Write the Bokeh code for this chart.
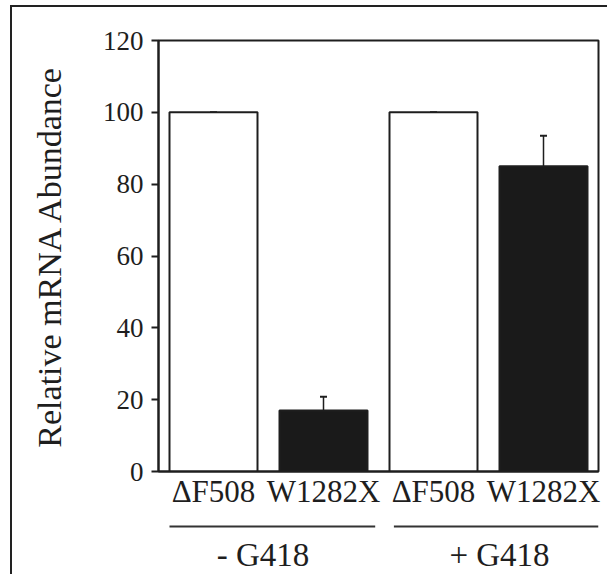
from bokeh.plotting import figure
from bokeh.layouts import column
from bokeh.models import (ColumnDataSource, Range1d, Whisker, TeeHead, FixedTicker)
from bokeh.core.properties import value
from bokeh.embed import file_html
from bokeh.resources import INLINE

# ---- data ----
groups = ["- G418", "- G418", "+ G418", "+ G418"]
variants = ["ΔF508", "W1282X", "ΔF508", "W1282X"]
values = [100, 17, 100, 85]
errors = [0, 3.8, 0, 8.5]
fills = ["white", "#1a1a1a", "white", "#1a1a1a"]
group_names = ["- G418", "+ G418"]
y_ticks = [0, 20, 40, 60, 80, 100, 120]

FONT = "Liberation Serif"
INK = "#1e1e1e"

# one slot per category, bars centred in their slot
n = len(variants)
pos = [i + 0.5 for i in range(n)]

src = ColumnDataSource(dict(
    x=pos, top=values, upper=[v + e for v, e in zip(values, errors)],
    fill=fills))

xr = Range1d(0, n)

# ---- main chart ----
p = figure(width=607, height=516, output_backend="svg", toolbar_location=None,
           x_range=xr, y_range=Range1d(0, 120),
           min_border_left=158, min_border_right=9, min_border_top=40,
           min_border_bottom=45)
p.background_fill_color = "white"
p.border_fill_color = None
p.outline_line_color = INK
p.outline_line_width = 2
p.grid.visible = False

xa = p.xaxis[0]
xa.ticker = FixedTicker(ticks=pos)
xa.major_label_overrides = dict(zip(pos, variants))
xa.major_tick_in = 0
xa.major_tick_out = 0
xa.major_tick_line_color = None
xa.minor_tick_line_color = None
xa.axis_line_width = 2
xa.axis_line_color = INK
xa.major_label_text_font = FONT
xa.major_label_text_font_size = "31px"
xa.major_label_text_color = INK
xa.major_label_standoff = 2

ya = p.yaxis[0]
ya.ticker = FixedTicker(ticks=y_ticks)
ya.minor_tick_line_color = None
ya.major_tick_in = 0
ya.major_tick_out = 7
ya.major_tick_line_width = 2
ya.major_tick_line_color = INK
ya.axis_line_width = 2
ya.axis_line_color = INK
ya.major_label_text_font = FONT
ya.major_label_text_font_size = "27px"
ya.major_label_text_color = INK
ya.major_label_standoff = 8
ya.axis_label = "Relative mRNA Abundance"
ya.axis_label_text_font = FONT
ya.axis_label_text_font_size = "34px"
ya.axis_label_text_font_style = "normal"
ya.axis_label_text_color = INK
ya.axis_label_standoff = 32

p.vbar(x="x", top="top", width=0.8, source=src, fill_color="fill",
       line_color=INK, line_width=2)

p.add_layout(Whisker(base="x", lower="top", upper="upper", source=src,
                     dimension="height", line_color=INK, line_width=1.5,
                     lower_head=None,
                     upper_head=TeeHead(size=7, line_color=INK, line_width=2)))

# ---- group strip (same x scale) ----
q = figure(width=607, height=58, output_backend="svg", toolbar_location=None,
           x_range=xr, y_range=Range1d(58, 0),
           min_border_left=158, min_border_right=9, min_border_top=0,
           min_border_bottom=0)
q.axis.visible = False
q.grid.visible = False
q.outline_line_color = None
q.background_fill_color = None
q.border_fill_color = None

line_x0 = [0.1, 2.14]
line_x1 = [1.97, 4.0]
label_x = [0.95, 3.1]
q.segment(x0=line_x0, x1=line_x1, y0=[10, 10], y1=[10, 10],
          line_color="#333", line_width=2)
q.text(x=label_x, y=[38, 38], text=group_names, text_font=value(FONT),
       text_font_size=value("33px"), text_color=INK,
       text_align=value("center"), text_baseline=value("middle"))

layout = column(p, q, spacing=0, styles={
    "background": ("linear-gradient(#222, #222) 10px 5px / 2px calc(100% - 5px) no-repeat, "
                   "linear-gradient(#222, #222) 10px 5px / calc(100% - 10px) 2px no-repeat, "
                   "white")})

open("out.html", "w").write(file_html(layout, INLINE))
